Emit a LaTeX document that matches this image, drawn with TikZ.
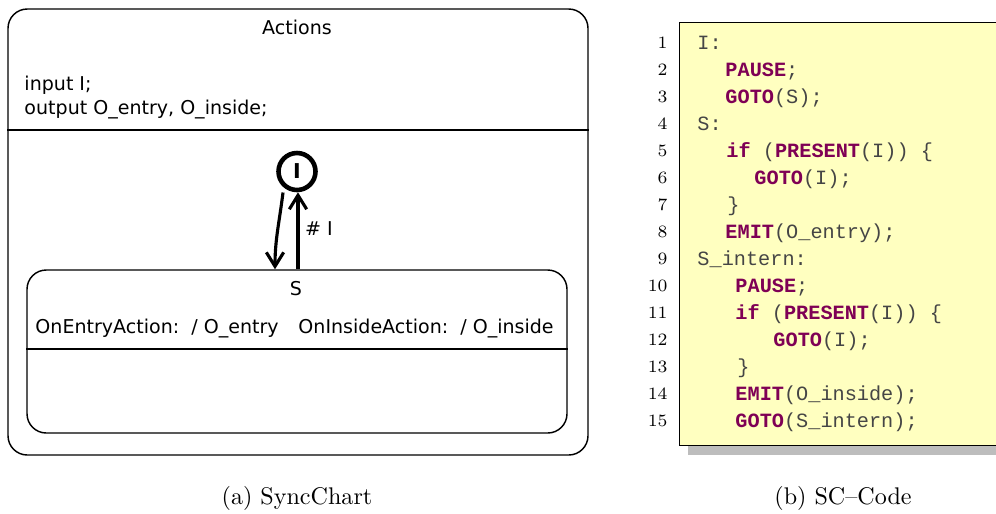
\documentclass[tikz,border=0pt]{standalone}
\usepackage{fontspec}
\setsansfont{DejaVu Sans}
\setmonofont{Liberation Mono}
\usetikzlibrary{arrows.meta,calc}
\definecolor{kwcol}{HTML}{7F0055}
\definecolor{codebg}{HTML}{FFFFC0}
\definecolor{codetxt}{HTML}{454545}
\definecolor{shadowcol}{HTML}{BDBDBD}
\newcommand{\kw}[1]{{\bfseries\color{kwcol}#1}}
\begin{document}
\begin{tikzpicture}[x=0.415pt,y=-0.415pt,
  chartfont/.style={font=\sffamily\fontsize{7.9}{9}\selectfont},
  statebox/.style={draw, line width=0.6pt, rounded corners=8pt, inner sep=0pt},
  trans/.style={line width=1.3pt, -{Straight Barb[length=5.8pt,width=7.2pt,line width=1.3pt]}},
  codeline/.style={anchor=base west, inner sep=0pt, text=codetxt,
    font=\ttfamily\fontsize{8.4}{10}\selectfont},
  lineno/.style={anchor=base east, inner sep=0pt, font=\fontsize{7.2}{8}\selectfont},
  caption/.style={font=\fontsize{10}{12}\selectfont, inner sep=0pt}]
\clip (0,0) rectangle (996,513);
\useasboundingbox (0,0) rectangle (996,513);

% ---------------- SyncChart ----------------
\node[statebox, minimum width={580*0.415pt}, minimum height={446*0.415pt}] (outer) at (298,232) {};
\draw[line width=0.6pt] (outer.west |- 0,130) -- (outer.east |- 0,130);
\node[chartfont] (title) at (297,27) {Actions};
\node[chartfont, anchor=west, inner sep=0pt] (decl1) at (24,85) {input I;};
\node[chartfont, anchor=west, inner sep=0pt] (decl2) at (24,110) {output O\_entry, O\_inside;};

\node[statebox, minimum width={540*0.415pt}, minimum height={163*0.415pt}] (S) at (297,351.5) {};
\draw[line width=0.6pt] (S.west |- 0,349) -- (S.east |- 0,349);
\node[chartfont] (Sname) at (296,289) {S};
\node[chartfont, anchor=west, inner sep=0pt] (entry) at (35,329) {OnEntryAction:\ \ / O\_entry};
\node[chartfont, anchor=west, inner sep=0pt] (inside) at (298,329) {OnInsideAction:\ \ / O\_inside};

\node[circle, draw, line width=1.9pt, minimum size={37*0.415pt}, inner sep=0pt,
  font=\sffamily\bfseries\fontsize{8.5}{9}\selectfont] (I) at (297,171.5) {I};

\draw[trans] ([shift={(-14,21)}]I.center) to[out=-97,in=90] ([shift={(-22,0)}]S.north);
\draw[trans] ([shift={(1,0)}]S.north) -- ([shift={(1,0)}]I.south)
  node[chartfont, midway, right, xshift=-1pt, yshift=1pt] (lbl) {\# I};

% ---------------- SC code listing ----------------
\fill[shadowcol] (688,32) rectangle (1020,455);
\node[draw, line width=0.6pt, fill=codebg, anchor=north west, inner sep=0pt,
  minimum width={340*0.415pt}, minimum height={423*0.415pt}] (code) at (679,22) {};

\foreach \n in {1,...,15} {
  \node[lineno] (ln\n) at (668,{48.5+27*(\n-1)}) {\n};
}
\node[codeline] (c1)  at (697,49)  {I:};
\node[codeline] (c2)  at (725,76)  {\kw{PAUSE};};
\node[codeline] (c3)  at (725,103) {\kw{GOTO}(S);};
\node[codeline] (c4)  at (697,130) {S:};
\node[codeline] (c5)  at (726,157) {\kw{if} (\kw{PRESENT}(I)) \{};
\node[codeline] (c6)  at (754,184) {\kw{GOTO}(I);};
\node[codeline] (c7)  at (727,211) {\}};
\node[codeline] (c8)  at (725,238) {\kw{EMIT}(O\_entry);};
\node[codeline] (c9)  at (697,265) {S\_intern:};
\node[codeline] (c10) at (735,292) {\kw{PAUSE};};
\node[codeline] (c11) at (735,319) {\kw{if} (\kw{PRESENT}(I)) \{};
\node[codeline] (c12) at (773,346) {\kw{GOTO}(I);};
\node[codeline] (c13) at (737,373) {\}};
\node[codeline] (c14) at (735,400) {\kw{EMIT}(O\_inside);};
\node[codeline] (c15) at (735,427) {\kw{GOTO}(S\_intern);};

% ---------------- captions ----------------
\node[caption] (capa) at (297,498) {(a) SyncChart};
\node[caption] (capb) at (843,498) {(b) SC--Code};
\end{tikzpicture}
\end{document}
